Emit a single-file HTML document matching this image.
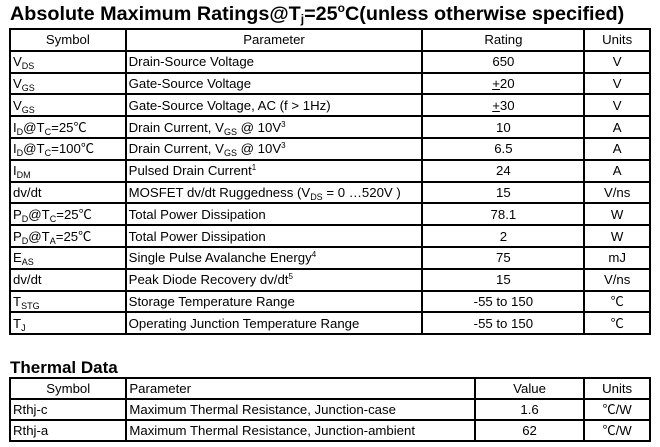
<!DOCTYPE html>
<html><head><meta charset="utf-8"><style>
body{margin:0;width:660px;height:447px;background:#fff;font-family:"Liberation Sans",Arial,"Noto Sans CJK SC",sans-serif;color:#000;position:relative;overflow:hidden}
h1{position:absolute;left:10px;top:3px;margin:0;font-size:19.8px;font-weight:bold;white-space:nowrap}
h2{position:absolute;left:10px;top:358px;margin:0;font-size:17px;font-weight:bold}
table{position:absolute;border-collapse:collapse;font-size:13.2px}
td{border:2px solid #000;padding:0 2px;white-space:nowrap;line-height:15px}
#t1 tr{height:21.8px}
#t2 tr{height:21px}
.c{text-align:center}
sub{font-size:9px;vertical-align:-3px;line-height:0}
sup{font-size:8px;vertical-align:5px;line-height:0}
u{text-decoration:underline}
</style></head><body>
<h1>Absolute Maximum Ratings@T<sub style="font-size:12px">j</sub>=25<sup style="font-size:12px;vertical-align:8px">o</sup>C(unless otherwise specified)</h1>
<table id="t1" style="left:9px;top:28px;width:642px">
<colgroup><col style="width:116px"><col style="width:297px"><col style="width:163px"><col style="width:66px"></colgroup>
<tr><td class="c">Symbol</td><td class="c">Parameter</td><td class="c">Rating</td><td class="c">Units</td></tr>
<tr><td>V<sub>DS</sub></td><td>Drain-Source Voltage</td><td class="c">650</td><td class="c">V</td></tr>
<tr><td>V<sub>GS</sub></td><td>Gate-Source Voltage</td><td class="c"><u>+</u>20</td><td class="c">V</td></tr>
<tr><td>V<sub>GS</sub></td><td>Gate-Source Voltage, AC (f &gt; 1Hz)</td><td class="c"><u>+</u>30</td><td class="c">V</td></tr>
<tr><td>I<sub>D</sub>@T<sub>C</sub>=25℃</td><td>Drain Current, V<sub>GS</sub> @ 10V<sup>3</sup></td><td class="c">10</td><td class="c">A</td></tr>
<tr><td>I<sub>D</sub>@T<sub>C</sub>=100℃</td><td>Drain Current, V<sub>GS</sub> @ 10V<sup>3</sup></td><td class="c">6.5</td><td class="c">A</td></tr>
<tr><td>I<sub>DM</sub></td><td>Pulsed Drain Current<sup>1</sup></td><td class="c">24</td><td class="c">A</td></tr>
<tr><td>dv/dt</td><td>MOSFET dv/dt Ruggedness (V<sub>DS</sub> = 0 …520V )</td><td class="c">15</td><td class="c">V/ns</td></tr>
<tr><td>P<sub>D</sub>@T<sub>C</sub>=25℃</td><td>Total Power Dissipation</td><td class="c">78.1</td><td class="c">W</td></tr>
<tr><td>P<sub>D</sub>@T<sub>A</sub>=25℃</td><td>Total Power Dissipation</td><td class="c">2</td><td class="c">W</td></tr>
<tr><td>E<sub>AS</sub></td><td>Single Pulse Avalanche Energy<sup>4</sup></td><td class="c">75</td><td class="c">mJ</td></tr>
<tr><td>dv/dt</td><td>Peak Diode Recovery dv/dt<sup>5</sup></td><td class="c">15</td><td class="c">V/ns</td></tr>
<tr><td>T<sub>STG</sub></td><td>Storage Temperature Range</td><td class="c">-55 to 150</td><td class="c">℃</td></tr>
<tr><td>T<sub>J</sub></td><td>Operating Junction Temperature Range</td><td class="c">-55 to 150</td><td class="c">℃</td></tr>
</table>
<h2>Thermal Data</h2>
<table id="t2" style="left:9px;top:377px;width:642px">
<colgroup><col style="width:117px"><col style="width:349px"><col style="width:110px"><col style="width:66px"></colgroup>
<tr><td class="c">Symbol</td><td>Parameter</td><td class="c">Value</td><td class="c">Units</td></tr>
<tr><td>Rthj-c</td><td>Maximum Thermal Resistance, Junction-case</td><td class="c">1.6</td><td class="c">℃/W</td></tr>
<tr><td>Rthj-a</td><td>Maximum Thermal Resistance, Junction-ambient</td><td class="c">62</td><td class="c">℃/W</td></tr>
</table>
</body></html>
